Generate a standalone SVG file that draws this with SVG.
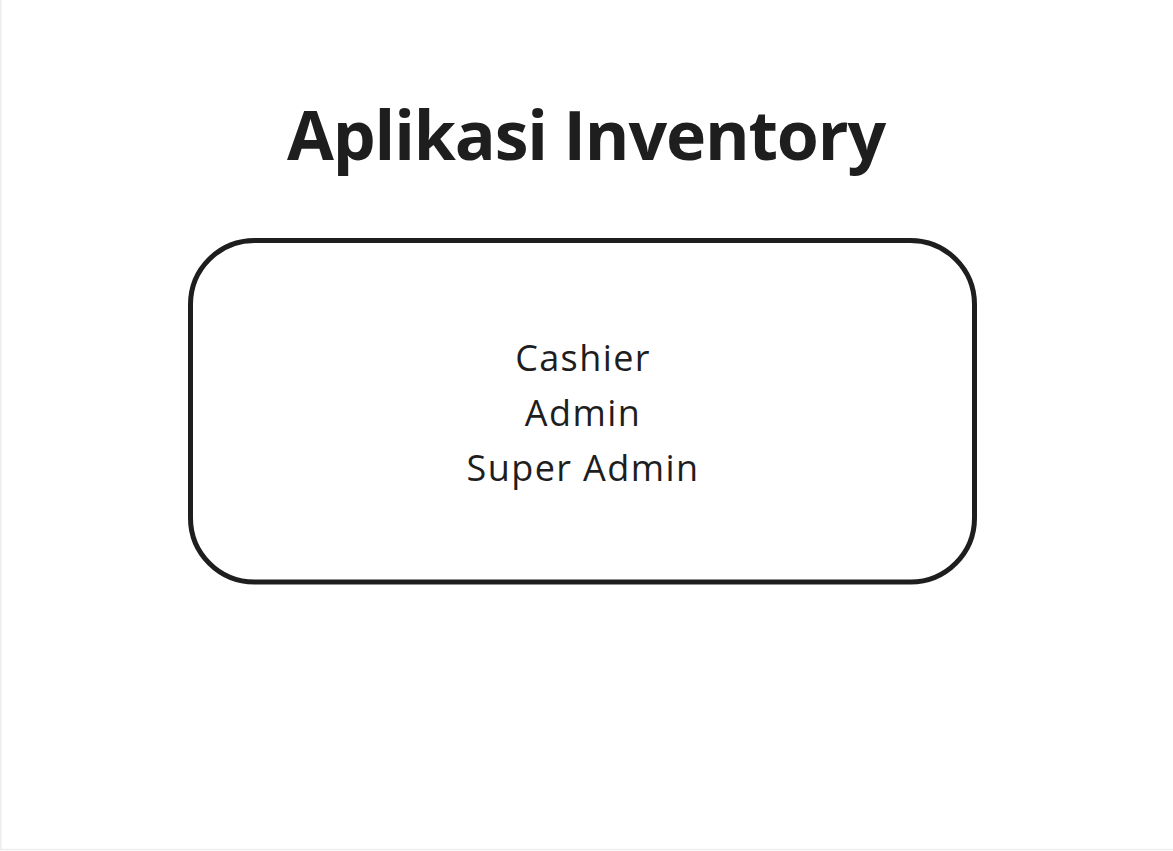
<svg xmlns="http://www.w3.org/2000/svg" width="1173" height="851" viewBox="0 0 1173 851">
<style>
.title{font-family:"Open Sans","DejaVu Sans",sans-serif;font-weight:700;font-size:68px;letter-spacing:-1.15px;fill:#1e1e1e;text-anchor:middle}
.label{font-family:"Open Sans","DejaVu Sans",sans-serif;font-size:36px;letter-spacing:1.4px;fill:#1e1e1e;text-anchor:middle}
.box{fill:#ffffff;stroke:#1e1e1e;stroke-width:5}
</style>
<rect x="0" y="0" width="1173" height="851" fill="#ffffff"/>
<rect x="0.75" y="-2" width="1180" height="851.5" fill="none" stroke="#eeeeee" stroke-width="1.5"/>
<g id="title">
<text class="title" x="586" y="160">Aplikasi Inventory</text>
</g>
<g id="roles">
<rect class="box" x="190.5" y="240.5" width="784" height="341.5" rx="64" ry="64"/>
<text class="label" x="583" y="371">Cashier</text>
<text class="label" x="583" y="426">Admin</text>
<text class="label" x="583" y="481">Super Admin</text>
</g>
<g id="connectors"></g>
</svg>
